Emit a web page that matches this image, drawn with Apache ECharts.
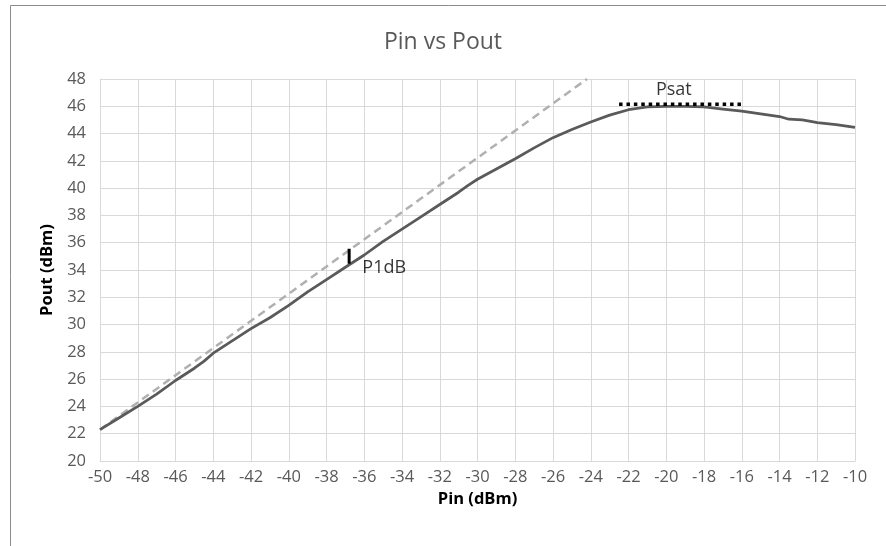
<!DOCTYPE html>
<html>
<head>
<meta charset="utf-8">
<script src="https://cdn.jsdelivr.net/npm/echarts@6/dist/echarts.min.js"></script>
<style>
html,body{margin:0;padding:0;background:#fff;}
#c{width:886px;height:546px;}
</style>
</head>
<body>
<div id="c"></div>
<script>
// ---- data ----
const pinValues  = [-50,-49,-48,-47,-46,-45,-44.5,-44,-43,-42,-41,-40,-39,-38,-37,-36,-35,-34,-33,-32,-31,-30.5,-30,-29,-28,-27,-26,-25,-24,-23,-22,-21,-20,-19,-18,-17,-16,-15,-14,-13.5,-12.8,-12.2,-12,-11,-10];
const poutValues = [22.3,23.15,24.0,24.9,25.9,26.8,27.3,27.9,28.8,29.7,30.5,31.4,32.4,33.3,34.2,35.1,36.1,37.0,37.9,38.8,39.7,40.2,40.65,41.4,42.15,42.95,43.7,44.3,44.85,45.35,45.75,45.95,46.0,46.0,45.95,45.8,45.65,45.45,45.25,45.05,45.0,44.85,44.8,44.65,44.45];
const linearPin  = [-50, -24.2];
const linearPout = [22.3, 48];
const p1dbPin    = [-36.8, -36.8];
const p1dbPout   = [34.45, 35.55];
const psatPin    = [-22.5, -15.9];
const psatPout   = [46.15, 46.15];
const labelTexts = ['P1dB', 'Psat'];
const labelPin   = [-36.1, -19.6];
const labelPout  = [34.15, 47.2];
const xTicks = [-50,-48,-46,-44,-42,-40,-38,-36,-34,-32,-30,-28,-26,-24,-22,-20,-18,-16,-14,-12,-10];
const yTicks = [20,22,24,26,28,30,32,34,36,38,40,42,44,46,48];

const zip = (a, b) => a.map((v, i) => [v, b[i]]);
const FONT = '"Open Sans", "Noto Sans", sans-serif';
const chart = echarts.init(document.getElementById('c'), null, {renderer: 'canvas'});
chart.setOption({
  animation: false,
  backgroundColor: '#ffffff',
  title: {
    text: 'Pin vs Pout', left: 'center', top: 26,
    textStyle: {fontFamily: FONT, fontSize: 23, fontWeight: 'normal', color: '#595959'}
  },
  grid: {left: 100, right: 31, top: 79, bottom: 85},
  xAxis: {
    type: 'value', min: xTicks[0], max: xTicks[xTicks.length - 1], interval: 2,
    name: 'Pin (dBm)', nameLocation: 'middle', nameGap: 16,
    nameTextStyle: {fontFamily: FONT, fontSize: 16.5, fontWeight: 'bold', color: '#000'},
    axisLine: {lineStyle: {color: '#d9d9d9', width: 1}},
    axisTick: {show: false},
    axisLabel: {fontFamily: FONT, fontSize: 16.5, color: '#595959', margin: 8},
    splitLine: {lineStyle: {color: '#d9d9d9', width: 1}}
  },
  yAxis: {
    type: 'value', min: yTicks[0], max: yTicks[yTicks.length - 1], interval: 2,
    name: 'Pout (dBm)', nameLocation: 'middle', nameGap: 42,
    nameTextStyle: {fontFamily: FONT, fontSize: 16.5, fontWeight: 'bold', color: '#000'},
    axisLine: {show: true, lineStyle: {color: '#d9d9d9', width: 1}},
    axisTick: {show: false},
    axisLabel: {fontFamily: FONT, fontSize: 16.5, color: '#595959', margin: 14},
    splitLine: {lineStyle: {color: '#d9d9d9', width: 1}}
  },
  series: [
    {
      type: 'line', data: zip(linearPin, linearPout), symbol: 'none',
      lineStyle: {color: '#b0b0b0', width: 2.5, type: [8, 5]}, z: 2
    },
    {
      type: 'line', data: zip(pinValues, poutValues), symbol: 'none',
      lineStyle: {color: '#5a5a5a', width: 2.75}, z: 3
    },
    {
      type: 'line', data: zip(p1dbPin, p1dbPout), symbol: 'none',
      lineStyle: {color: '#000', width: 3}, z: 4
    },
    {
      type: 'line', data: zip(psatPin, psatPout), symbol: 'none',
      lineStyle: {color: '#000', width: 3.5, type: [3.5, 3.9]}, z: 4
    },
    {
      type: 'scatter', symbolSize: 0, z: 5,
      data: [
        {value: [labelPin[0], labelPout[0]], name: labelTexts[0], label: {position: 'right', distance: 0, align: 'left'}},
        {value: [labelPin[1], labelPout[1]], name: labelTexts[1]}
      ],
      label: {
        show: true, position: 'inside', formatter: p => p.name,
        fontFamily: FONT, fontSize: 18, color: '#000'
      }
    }
  ],
  graphic: [
    {type: 'line', shape: {x1: 10.5, y1: 5.5, x2: 886, y2: 5.5}, style: {stroke: '#8c8c8c', lineWidth: 1}},
    {type: 'line', shape: {x1: 10.5, y1: 5.5, x2: 10.5, y2: 546}, style: {stroke: '#8c8c8c', lineWidth: 1}}
  ]
});
</script>
</body>
</html>
